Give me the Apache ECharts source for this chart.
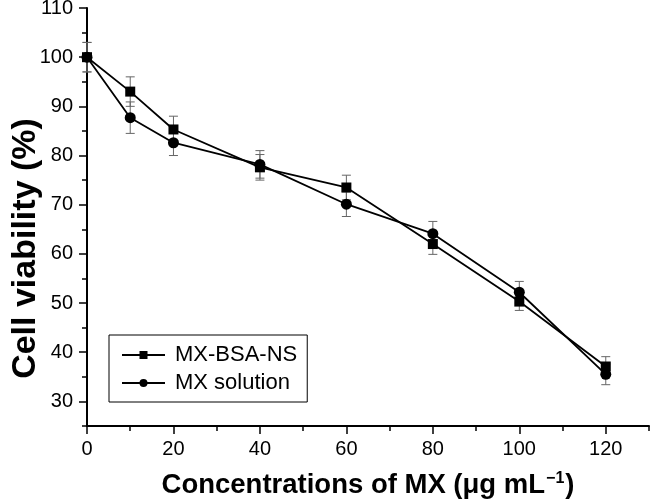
<!DOCTYPE html>
<html>
<head>
<meta charset="utf-8">
<script src="https://cdn.jsdelivr.net/npm/echarts@6/dist/echarts.min.js"></script>
<style>html,body{margin:0;padding:0;background:#fff;}#c{width:650px;height:502px;}</style>
</head>
<body>
<div id="c"></div>
<script>
// ---- data ----
const concentrations = [0, 10, 20, 40, 60, 80, 100, 120];
const bsaNsMean = [100, 93.0, 85.3, 77.6, 73.5, 62.0, 50.3, 37.1];
const bsaNsErr  = [3.0, 3.0, 2.7, 2.6, 2.5, 2.1, 1.8, 2.0];
const solMean   = [100, 87.7, 82.6, 78.2, 70.1, 64.1, 52.2, 35.5];
const solErr    = [3.0, 3.2, 2.6, 2.8, 2.5, 2.5, 2.2, 2.1];
const xMajorTicks = [0, 20, 40, 60, 80, 100, 120];
const xMinorTicks = [10, 30, 50, 70, 90, 110, 130];
const yMajorTicks = [30, 40, 50, 60, 70, 80, 90, 100, 110];
const yMinorTicks = [25, 35, 45, 55, 65, 75, 85, 95, 105];
const seriesNames = ['MX-BSA-NS', 'MX solution'];

const FONT = '"Liberation Sans", Arial, sans-serif';
const chart = echarts.init(document.getElementById('c'), null, {renderer: 'canvas'});

function pairs(xs, ys) { return xs.map((x, i) => [x, ys[i]]); }
function errData(xs, ys, es) { return xs.map((x, i) => [x, ys[i], es[i]]); }

function errRender(params, api) {
  const x = api.value(0), y = api.value(1), e = api.value(2);
  const t = api.coord([x, y + e]);
  const b = api.coord([x, y - e]);
  const h = 4.5;
  const st = {stroke: '#666', lineWidth: 1};
  return {
    type: 'group',
    children: [
      {type: 'line', shape: {x1: t[0], y1: t[1], x2: b[0], y2: b[1]}, style: st},
      {type: 'line', shape: {x1: t[0] - h, y1: t[1], x2: t[0] + h, y2: t[1]}, style: st},
      {type: 'line', shape: {x1: b[0] - h, y1: b[1], x2: b[0] + h, y2: b[1]}, style: st}
    ]
  };
}

const axisLine = {show: true, onZero: false, lineStyle: {color: '#000', width: 2}};
const tickStyle = {color: '#000', width: 1.5};

const option = {
  animation: false,
  backgroundColor: '#fff',
  grid: {left: 87, right: 1, top: 8, bottom: 76, containLabel: false, outerBoundsMode: 'none'},
  legend: {
    data: seriesNames,
    left: 109, top: 335,
    orient: 'vertical',
    borderColor: '#000', borderWidth: 1,
    padding: [9, 10, 8, 12],
    itemGap: 6,
    itemWidth: 43, itemHeight: 10,
    textStyle: {fontFamily: FONT, fontSize: 22, color: '#000', padding: [0, 0, 0, 5]}
  },
  xAxis: [
    {
      type: 'value', min: 0, max: 130,
      axisLine: axisLine,
      axisTick: {show: true, customValues: xMajorTicks, length: 8, lineStyle: tickStyle},
      axisLabel: {customValues: xMajorTicks, fontFamily: FONT, fontSize: 20, color: '#000', margin: 13},
      splitLine: {show: false},
      name: 'Concentrations of MX (μg mL{sup|−1})',
      nameLocation: 'middle', nameGap: 45, nameMoveOverlap: false,
      nameTextStyle: {
        fontFamily: FONT, fontSize: 27.5, fontWeight: 'bold', color: '#000',
        rich: {sup: {fontFamily: FONT, fontSize: 16, fontWeight: 'bold', color: '#000', verticalAlign: 'top', padding: [0, 1, 12, 1]}}
      }
    },
    {
      type: 'value', min: 0, max: 130, position: 'top', offset: -418,
      axisLine: {show: false, onZero: false},
      axisTick: {show: true, inside: true, customValues: xMinorTicks, length: 5, lineStyle: tickStyle},
      axisLabel: {show: false},
      splitLine: {show: false}
    }
  ],
  yAxis: [
    {
      type: 'value', min: 25, max: 110,
      axisLine: axisLine,
      axisTick: {show: true, customValues: yMajorTicks, length: 8, lineStyle: tickStyle},
      axisLabel: {customValues: yMajorTicks, fontFamily: FONT, fontSize: 20, color: '#000', margin: 14},
      splitLine: {show: false},
      name: 'Cell viability (%)',
      nameLocation: 'middle', nameGap: 44, nameRotate: 90, nameMoveOverlap: false,
      nameTextStyle: {fontFamily: FONT, fontSize: 34, fontWeight: 'bold', color: '#000', padding: [0, 63, 0, 0]}
    },
    {
      type: 'value', min: 25, max: 110, position: 'right', offset: -562,
      axisLine: {show: false, onZero: false},
      axisTick: {show: true, inside: true, customValues: yMinorTicks, length: 5, lineStyle: tickStyle},
      axisLabel: {show: false},
      splitLine: {show: false}
    }
  ],
  series: [
    {
      type: 'custom', name: 'err1', renderItem: errRender, data: errData(concentrations, bsaNsMean, bsaNsErr),
      xAxisIndex: 0, yAxisIndex: 0, z: 1, silent: true
    },
    {
      type: 'custom', name: 'err2', renderItem: errRender, data: errData(concentrations, solMean, solErr),
      xAxisIndex: 0, yAxisIndex: 0, z: 1, silent: true
    },
    {
      type: 'line', name: seriesNames[0], data: pairs(concentrations, bsaNsMean),
      symbol: 'rect', symbolSize: 10,
      lineStyle: {color: '#000', width: 1.8}, itemStyle: {color: '#000'},
      z: 3
    },
    {
      type: 'line', name: seriesNames[1], data: pairs(concentrations, solMean),
      symbol: 'circle', symbolSize: 11,
      lineStyle: {color: '#000', width: 1.8}, itemStyle: {color: '#000'},
      z: 3
    }
  ]
};
chart.setOption(option);
</script>
</body>
</html>
